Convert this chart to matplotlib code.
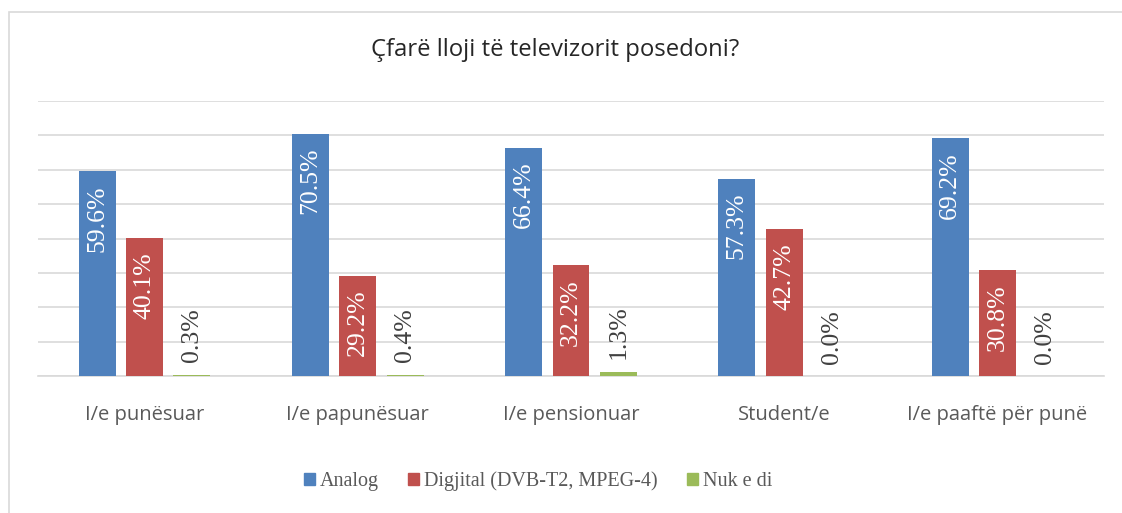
import matplotlib.pyplot as plt
import matplotlib.patches as mpatches
import numpy as np

# values
categories = ["I/e punësuar", "I/e papunësuar", "I/e pensionuar", "Student/e", "I/e paaftë për punë"]
analog = [59.6, 70.5, 66.4, 57.3, 69.2]
digital = [40.1, 29.2, 32.2, 42.7, 30.8]
dont_know = [0.3, 0.4, 1.3, 0.0, 0.0]
series_names = ["Analog", "Digjital (DVB-T2, MPEG-4)", "Nuk e di"]
colors = ["#4F81BD", "#C0504D", "#9BBB59"]

serif = ["Liberation Serif", "DejaVu Serif"]
sans = ["Open Sans", "DejaVu Sans"]

fig = plt.figure(figsize=(11.22, 5.13), dpi=100)
ax = fig.add_axes([38 / 1122, 1 - 376 / 513, (1104 - 38) / 1122, (376 - 101) / 513])

# light frame around the whole chart
fig.patches.append(mpatches.Rectangle((9 / 1122, -0.1), 1.2, 1 - 12 / 513 + 0.1,
                                      transform=fig.transFigure, fill=False,
                                      edgecolor="#D9D9D9", linewidth=1.2))

x = np.arange(len(categories))
width = 0.1735
step = 0.222
all_series = [analog, digital, dont_know]

for i, vals in enumerate(all_series):
    pos = x + (i - 1) * step
    ax.bar(pos, vals, width, color=colors[i], zorder=3)
    for xp, v in zip(pos, vals):
        label = f"{v:.1f}%"
        if i < 2:
            ax.annotate(label, (xp, v), xytext=(0, -10), textcoords="offset points",
                        rotation=90, ha="center", va="top", color="white",
                        fontsize=18.5, family=serif)
        else:
            ax.annotate(label, (xp, v), xytext=(0, 9), textcoords="offset points",
                        rotation=90, ha="center", va="bottom", color="#404040",
                        fontsize=18.5, family=serif)

ax.set_ylim(0, 80)
ax.set_xlim(-0.5, len(categories) - 0.5)
ax.set_yticks(np.arange(0, 81, 10))
ax.yaxis.grid(True, color="#D9D9D9", linewidth=1.2, zorder=0)
ax.tick_params(axis="y", length=0, labelleft=False)
ax.tick_params(axis="x", length=0, pad=21, labelsize=14.5, labelcolor="#595959")
ax.set_xticks(x)
ax.set_xticklabels(categories, family=sans)
for s in ["top", "right", "left"]:
    ax.spines[s].set_visible(False)
ax.spines["bottom"].set_color("#D9D9D9")
ax.spines["bottom"].set_linewidth(1.2)

fig.text(555 / 1122, 1 - 50 / 513, "Çfarë lloji të televizorit posedoni?",
         ha="center", va="center", fontsize=17.2, color="#262626", family=sans)

handles = [mpatches.Patch(color=c) for c in colors]
fig.legend(handles, series_names, loc="center", bbox_to_anchor=(538 / 1122, 1 - 481 / 513),
           ncol=3, frameon=False, handlelength=0.55, handleheight=0.55, handletextpad=0.25,
           columnspacing=1.45, prop={"family": serif, "size": 14.5}, labelcolor="#595959")

fig.savefig("out.png", dpi=100)
